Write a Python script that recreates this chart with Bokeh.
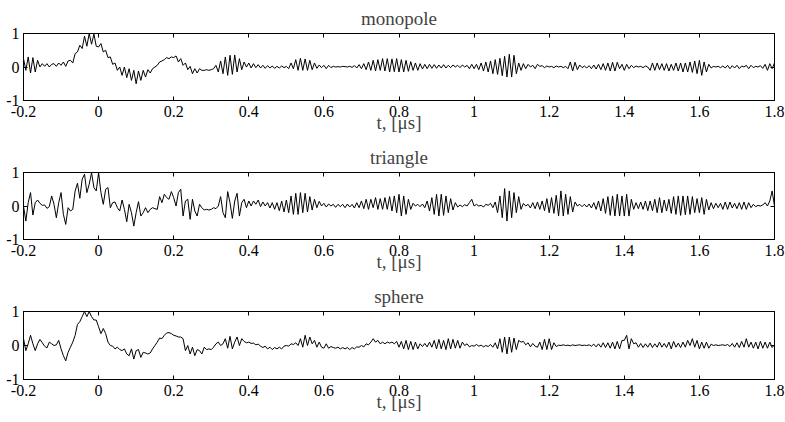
from bokeh.plotting import figure
from bokeh.layouts import column
from bokeh.models import LinearAxis, FixedTicker, Range1d
from bokeh.embed import file_html
from bokeh.resources import INLINE
import numpy as np

T0 = -0.2
DT = 0.00625

monopole = [
    0.25, -0.10, 0.30, -0.18, 0.28, -0.15, 0.20, 0.00, 0.10, 0.02, 0.10, 0.00, 0.08, 0.10, 0.02, 0.12,
    0.05, 0.15, 0.02, 0.18, 0.20, 0.12, 0.40, 0.45, 0.65, 0.55, 0.92, 0.62, 1.00, 0.68, 0.98, 0.62,
    0.60, 0.70, 0.45, 0.50, 0.28, 0.30, 0.08, 0.12, -0.10, 0.00, -0.25, 0.00, -0.32, -0.05, -0.40, -0.10,
    -0.50, -0.12, -0.40, -0.10, -0.30, -0.08, -0.18, -0.05, 0.00, 0.05, 0.15, 0.18, 0.22, 0.28, 0.25, 0.30,
    0.28, 0.33, 0.15, 0.25, 0.05, 0.12, -0.08, 0.02, -0.20, -0.05, -0.18, -0.05, -0.10, -0.10, -0.08, -0.10,
    -0.08, -0.05, 0.05, -0.15, 0.18, -0.20, 0.30, -0.25, 0.35, -0.22, 0.36, -0.15, 0.25, -0.08, 0.15, 0.00,
    0.12, -0.03, 0.10, -0.02, 0.07, -0.03, 0.05, -0.04, 0.04, -0.03, 0.03, -0.04, 0.02, -0.03, 0.03, -0.02,
    0.02, -0.05, 0.12, -0.05, 0.22, -0.10, 0.26, -0.10, 0.24, -0.10, 0.20, -0.08, 0.12, -0.04, 0.06, -0.02,
    0.05, -0.05, 0.05, -0.02, 0.02, 0.00, 0.01, 0.00, 0.02, 0.01, 0.00, 0.02, -0.01, 0.04, -0.03, 0.07,
    -0.05, 0.10, -0.08, 0.15, -0.10, 0.20, -0.12, 0.22, -0.10, 0.25, -0.12, 0.25, -0.15, 0.24, -0.14, 0.25,
    -0.15, 0.22, -0.15, 0.20, -0.13, 0.16, -0.10, 0.12, -0.10, 0.10, -0.06, 0.08, -0.05, 0.08, -0.04, 0.07,
    -0.04, 0.06, -0.03, 0.07, -0.03, 0.05, -0.02, 0.06, 0.00, 0.05, -0.02, 0.06, 0.00, 0.05, -0.05, 0.08,
    -0.05, 0.08, -0.08, 0.12, -0.12, 0.15, -0.15, 0.18, -0.20, 0.22, -0.22, 0.26, -0.26, 0.32, -0.30, 0.38,
    -0.30, 0.35, -0.20, 0.12, -0.10, 0.10, -0.05, 0.08, 0.00, 0.05, -0.05, 0.08, 0.02, 0.04, -0.02, 0.03,
    0.00, 0.02, -0.02, 0.03, 0.00, 0.02, -0.02, 0.02, -0.05, 0.15, -0.12, 0.14, -0.08, 0.06, -0.02, 0.03,
    -0.03, 0.04, -0.05, 0.06, -0.06, 0.08, -0.08, 0.10, -0.10, 0.12, -0.12, 0.14, -0.12, 0.14, -0.05, 0.08,
    -0.10, 0.08, -0.05, 0.05, -0.02, 0.03, 0.00, 0.02, -0.02, 0.03, 0.00, -0.10, 0.12, -0.10, 0.12, -0.08,
    0.10, -0.10, 0.10, -0.12, 0.08, -0.10, 0.12, -0.12, 0.12, -0.15, 0.12, -0.15, 0.15, -0.16, 0.18, -0.20,
    0.20, -0.25, 0.15, -0.15, 0.08, -0.03, 0.02, 0.00, 0.02, -0.02, 0.03, -0.03, 0.05, -0.05, 0.04, -0.03,
    0.05, -0.05, 0.03, 0.00, 0.05, -0.05, 0.05, -0.02, 0.02, 0.00, 0.04, -0.04, 0.08, -0.10, 0.10, -0.05, 0.12,
]

triangle = [
    0.00, -0.45, 0.10, 0.40, -0.27, 0.10, 0.18, 0.08, 0.02, 0.03, -0.07, -0.02, 0.30, 0.05, -0.35, 0.10,
    0.40, -0.25, -0.55, -0.05, -0.15, -0.10, 0.45, 0.68, 0.23, 0.80, 0.95, 0.40, 0.65, 1.00, 0.55, 0.45,
    1.00, 0.40, 0.05, 0.50, 0.55, -0.05, 0.10, 0.12, -0.05, -0.15, 0.18, -0.10, -0.47, 0.05, -0.20, -0.60,
    -0.20, 0.13, -0.30, -0.20, -0.05, -0.20, -0.10, -0.05, -0.08, -0.10, 0.28, 0.10, 0.35, 0.25, 0.20, 0.43,
    0.25, 0.00, 0.40, 0.50, -0.30, 0.15, 0.20, -0.40, 0.20, -0.15, -0.30, 0.05, -0.05, -0.12, -0.10, -0.12,
    -0.10, -0.05, -0.08, 0.00, 0.28, -0.20, -0.35, 0.43, 0.10, -0.37, 0.15, 0.38, -0.30, 0.10, 0.20, -0.05,
    0.15, 0.00, 0.15, 0.05, 0.18, -0.02, 0.12, 0.00, 0.10, -0.06, 0.10, -0.10, 0.10, -0.14, 0.15, -0.18,
    0.18, -0.20, 0.30, -0.25, 0.38, -0.25, 0.40, -0.20, 0.38, -0.18, 0.28, -0.12, 0.20, -0.05, 0.14, 0.00,
    0.08, -0.03, 0.06, 0.00, 0.05, -0.04, 0.05, -0.02, 0.05, -0.05, 0.06, -0.03, 0.05, -0.06, 0.10, -0.05,
    0.15, -0.08, 0.20, -0.10, 0.20, -0.05, 0.25, -0.10, 0.22, -0.10, 0.25, -0.10, 0.28, -0.15, 0.30, -0.20,
    0.35, -0.30, 0.30, -0.25, 0.20, -0.10, 0.08, 0.00, 0.05, -0.02, 0.06, -0.05, 0.15, -0.15, 0.25, -0.25,
    0.35, -0.30, 0.35, -0.28, 0.30, -0.20, 0.22, -0.12, 0.10, -0.03, 0.03, -0.02, 0.04, 0.00, 0.10, 0.20,
    0.00, 0.05, 0.00, 0.02, -0.03, 0.05, 0.02, 0.08, -0.05, 0.12, -0.20, 0.30, -0.35, 0.52, -0.45, 0.45,
    -0.35, 0.40, -0.20, 0.28, -0.10, 0.08, 0.00, 0.05, -0.06, 0.10, -0.08, 0.12, -0.10, 0.15, -0.14, 0.22,
    -0.20, 0.25, -0.22, 0.32, -0.30, 0.45, -0.30, 0.35, -0.25, 0.28, -0.18, 0.12, 0.00, 0.05, -0.02, 0.05,
    -0.03, 0.06, -0.06, 0.10, -0.10, 0.15, -0.15, 0.22, -0.22, 0.28, -0.28, 0.30, -0.30, 0.35, -0.30, 0.30,
    -0.30, 0.35, -0.30, 0.20, -0.10, 0.10, -0.08, 0.12, -0.10, 0.15, -0.14, 0.15, -0.14, 0.20, -0.20, 0.25,
    -0.20, 0.18, -0.15, 0.20, -0.22, 0.28, -0.25, 0.30, -0.28, 0.30, -0.26, 0.30, -0.25, 0.28, -0.20, 0.22,
    -0.20, 0.25, -0.25, 0.20, -0.12, 0.10, -0.08, 0.08, -0.05, 0.08, -0.10, 0.12, -0.10, 0.12, -0.06, 0.08,
    -0.08, 0.10, -0.10, 0.12, -0.10, 0.10, -0.05, 0.05, -0.02, 0.02, 0.00, 0.03, 0.10, 0.00, 0.15, 0.45, 0.00,
]

sphere = [
    0.20, -0.15, 0.05, 0.30, 0.05, -0.15, 0.05, 0.18, 0.08, -0.02, -0.07, 0.10, 0.05, 0.00, 0.02, 0.15,
    -0.10, -0.30, -0.45, -0.20, -0.05, 0.10, 0.30, 0.62, 0.70, 0.85, 1.00, 0.85, 1.00, 0.85, 0.75, 0.75,
    0.55, 0.35, 0.50, 0.35, 0.10, 0.00, -0.02, -0.10, -0.05, -0.12, -0.15, -0.10, -0.25, -0.30, -0.10, -0.40,
    -0.15, -0.12, -0.35, -0.20, -0.22, -0.25, -0.22, -0.10, 0.00, 0.10, 0.22, 0.20, 0.30, 0.37, 0.38, 0.35,
    0.30, 0.28, 0.25, 0.25, 0.20, -0.15, 0.00, -0.25, -0.05, -0.30, -0.12, -0.15, -0.25, -0.05, -0.12, -0.10,
    -0.12, -0.05, 0.05, 0.10, 0.00, 0.05, 0.20, -0.08, 0.27, -0.10, 0.10, 0.25, 0.00, 0.20, 0.12, 0.08,
    0.10, 0.06, 0.07, 0.02, 0.04, -0.02, -0.06, -0.02, -0.10, -0.05, -0.12, -0.06, -0.10, -0.05, -0.10, -0.02,
    0.00, -0.02, 0.05, 0.03, 0.08, 0.00, 0.20, -0.05, 0.30, 0.00, 0.25, 0.05, 0.15, -0.05, 0.10, -0.05,
    -0.08, 0.05, -0.08, -0.03, -0.06, -0.08, -0.05, -0.10, -0.06, -0.10, -0.06, -0.12, -0.06, -0.10, -0.04, -0.05,
    0.00, -0.04, 0.05, 0.02, 0.10, 0.20, 0.10, 0.15, 0.05, 0.10, 0.05, 0.10, 0.07, 0.10, 0.05, 0.12,
    -0.05, 0.12, -0.10, 0.15, -0.12, 0.12, -0.12, 0.10, -0.10, 0.05, -0.03, 0.06, -0.04, 0.10, -0.05, 0.15,
    -0.10, 0.18, -0.10, 0.15, -0.12, 0.20, -0.10, 0.18, -0.08, 0.15, -0.08, 0.10, 0.00, 0.05, -0.04, 0.00,
    -0.02, 0.03, -0.02, 0.01, -0.04, 0.00, -0.03, 0.03, -0.05, 0.08, -0.10, 0.20, -0.20, 0.25, -0.25, 0.25,
    -0.20, 0.22, -0.12, 0.15, 0.10, 0.12, 0.02, 0.08, -0.04, 0.06, -0.02, -0.05, 0.10, -0.12, 0.18, -0.12,
    0.20, -0.12, 0.08, -0.03, 0.01, 0.00, 0.02, 0.00, 0.01, -0.01, 0.02, 0.00, 0.01, 0.02, 0.00, 0.01,
    0.00, 0.02, -0.02, 0.04, -0.04, 0.05, -0.05, 0.08, -0.06, 0.08, -0.08, 0.10, -0.10, 0.12, -0.10, 0.15,
    0.15, 0.30, -0.10, 0.20, 0.05, 0.08, -0.05, 0.06, -0.06, 0.05, -0.05, 0.07, -0.06, 0.05, -0.05, 0.10,
    -0.05, 0.06, -0.06, 0.10, -0.10, 0.12, -0.05, 0.07, -0.06, 0.10, -0.05, 0.15, 0.00, 0.20, -0.05, 0.15,
    -0.10, 0.10, -0.08, 0.10, -0.08, 0.04, 0.00, 0.02, 0.00, 0.01, 0.02, 0.00, 0.03, -0.03, 0.06, -0.05,
    0.08, -0.06, 0.12, -0.05, 0.20, -0.05, 0.10, -0.08, 0.10, -0.10, 0.12, -0.08, 0.10, -0.08, 0.10, -0.06, 0.02,
]

titles = ["monopole", "triangle", "sphere"]
x_ticks = [-0.2, 0, 0.2, 0.4, 0.6, 0.8, 1, 1.2, 1.4, 1.6, 1.8]
x_tick_labels = ["-0.2", "0", "0.2", "0.4", "0.6", "0.8", "1", "1.2", "1.4", "1.6", "1.8"]
y_ticks = [-1, 0, 1]
y_tick_labels = ["-1", "0", "1"]
x_label = "t, [\u03bcs]"

FONT = "'Liberation Serif', 'Times New Roman', serif"
TICK_SIZE = "16px"
LABEL_SIZE = "19px"


def style_axis(ax, ticks, labels, show_labels=True):
    ax.ticker = FixedTicker(ticks=ticks)
    ax.major_tick_in = 4
    ax.major_tick_out = 0
    ax.minor_tick_line_color = None
    ax.axis_line_color = "black"
    ax.major_tick_line_color = "black"
    ax.major_label_text_font = FONT
    if show_labels:
        ax.major_label_overrides = {k: v for k, v in zip(ticks, labels)}
        ax.major_label_text_color = "black"
        ax.major_label_text_font_size = TICK_SIZE
        ax.major_label_standoff = 5
    else:
        ax.major_label_text_color = None
        ax.major_label_text_font_size = "1px"
        ax.major_label_standoff = 0


def make_panel(name, series, height, border_top, border_bottom):
    t = T0 + DT * np.arange(len(series))
    p = figure(width=785, height=height,
               x_range=Range1d(-0.2, 1.8), y_range=Range1d(-1, 1),
               output_backend="svg", toolbar_location=None, tools="",
               min_border_left=23, min_border_right=11,
               min_border_top=border_top, min_border_bottom=border_bottom,
               background_fill_color="white", border_fill_color="white")
    p.title.text = name
    p.title.align = "center"
    p.title.text_font = FONT
    p.title.text_font_style = "normal"
    p.title.text_font_size = LABEL_SIZE
    p.title.standoff = 10
    p.grid.visible = False
    p.outline_line_color = "black"
    p.outline_line_width = 1

    p.line(t, series, line_color="black", line_width=1)

    xa = p.xaxis[0]
    style_axis(xa, x_ticks, x_tick_labels)
    xa.axis_label = x_label
    xa.axis_label_text_font = FONT
    xa.axis_label_text_font_style = "normal"
    xa.axis_label_text_font_size = LABEL_SIZE
    xa.axis_label_standoff = -8

    ya = p.yaxis[0]
    style_axis(ya, y_ticks, y_tick_labels)
    ya.major_label_standoff = 4
    ya.major_label_orientation = "horizontal"

    top = LinearAxis()
    style_axis(top, x_ticks, x_tick_labels, show_labels=False)
    p.add_layout(top, "above")
    right = LinearAxis()
    style_axis(right, y_ticks, y_tick_labels, show_labels=False)
    p.add_layout(right, "right")
    return p


p1 = make_panel(titles[0], monopole, 136, 33, 36)
p2 = make_panel(titles[1], triangle, 139, 36, 36)
p3 = make_panel(titles[2], sphere, 146, 36, 42)

layout = column(p1, p2, p3, spacing=0)
open("out.html", "w").write(file_html(layout, INLINE))
